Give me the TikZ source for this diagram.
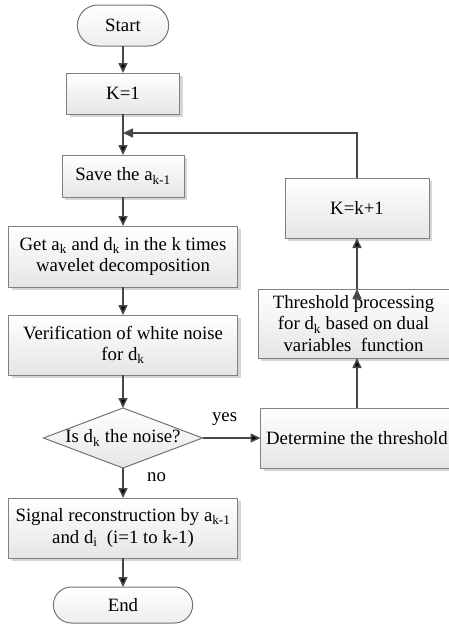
\documentclass[tikz,border=0pt]{standalone}
\usepackage{fontspec}
\setmainfont{Liberation Serif}
\usetikzlibrary{arrows.meta,positioning,shapes.geometric,shapes.misc,shadows}

\begin{document}
\begin{tikzpicture}[>={Triangle[length=10pt,width=9pt]},node distance=29pt,
                    font=\fontsize{18.8}{21.5}\selectfont,
                    line/.style={->,draw=black!72,line width=1.6pt},
                    block/.style={rectangle,draw=black!50,line width=1pt,top color=white,
                      bottom color=black!10,align=center,inner xsep=3pt,outer sep=0pt,
                      drop shadow={shadow xshift=3pt,shadow yshift=-3pt,fill=black!16,opacity=1}},
                    term/.style={rounded rectangle,draw=black!55,line width=1pt,outer sep=0pt,
                      top color=white,bottom color=black!7},
                    decision/.style={diamond,draw=black!55,line width=1pt,top color=white,
                      bottom color=black!10,inner sep=0pt,outer sep=0pt,aspect=2.65}]

  \useasboundingbox (0,0) rectangle (449pt,-627pt);

  \node[term, minimum width=98pt, minimum height=41pt] (start) at (123pt,-25.5pt) {Start};
  \node[block, minimum width=113pt, minimum height=41pt] (k1) [below=27pt of start] {K=1};
  \node[block, minimum width=122pt, minimum height=42pt] (save) [below=41pt of k1]
       {Save the a\textsubscript{k-1}};
  \node[block, minimum width=229pt, minimum height=61pt] (get) [below=of save]
       {Get a\textsubscript{k} and d\textsubscript{k} in the k times\\wavelet decomposition};
  \node[block, minimum width=229pt, minimum height=60pt] (verif) [below=28pt of get]
       {Verification of white noise\\for d\textsubscript{k}};
  \node[decision, minimum width=159pt, minimum height=60pt] (dec) [below=33pt of verif]
       {\makebox[0pt]{Is d\textsubscript{k} the noise?}};
  \node[block, minimum width=229pt, minimum height=60pt] (signal) [below=30pt of dec]
       {Signal reconstruction by a\textsubscript{k-1}\\and d\textsubscript{i}\ \ (i=1 to k-1)};
  \node[term, minimum width=146pt, minimum height=36pt] (end) [below=of signal] {End};

  \node[block, minimum width=193pt, minimum height=60pt] (det) [right=58pt of dec]
       {Determine the threshold};
  \node[block, minimum width=191pt, minimum height=69pt] (thresh) [above=50pt of det, xshift=-3.5pt]
       {Threshold processing\\for d\textsubscript{k} based on dual\\variables\ \ function};
  \node[block, minimum width=144pt, minimum height=60pt] (kk1) [above=51pt of thresh, xshift=3.5pt]
       {K=k+1};

  \coordinate (join) at ([yshift=-19pt]k1.south);

  \path[line]
	(start) edge (k1)
	(k1) edge (save)
	(save) edge (get)
	(get) edge (verif)
	(verif) edge (dec)
	(dec) edge node[right, pos=0.3, xshift=20pt] {no} (signal)
		edge node[above, pos=0.38, yshift=8pt] {yes} (det)
	(signal) edge (end)
	(det.north) edge (det.north |- thresh.south)
	(thresh.north -| kk1.south) edge (kk1.south);

  \draw[line] (kk1.north) |- (join);

\end{tikzpicture}
\end{document}
